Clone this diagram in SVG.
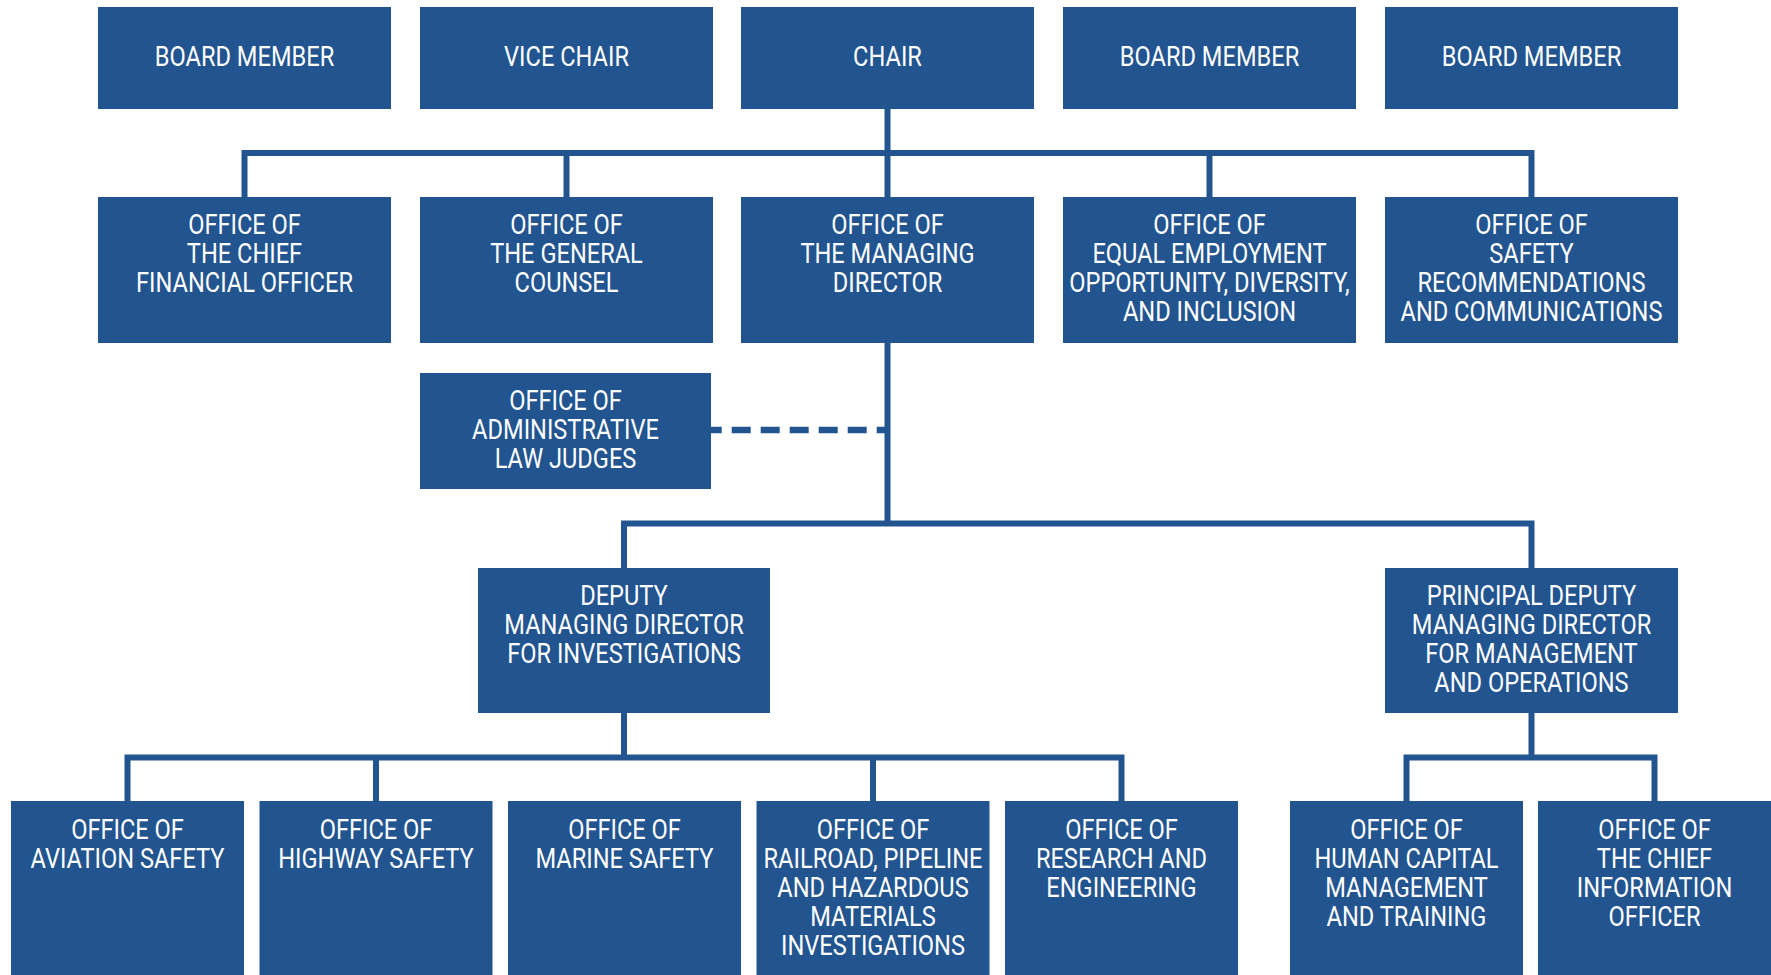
<svg xmlns="http://www.w3.org/2000/svg" width="1771" height="975" viewBox="0 0 1771 975">
<style>
.box{fill:#22548F}
.t{fill:#FFFFFF;font-family:Roboto,"Liberation Sans",sans-serif;font-size:27px;text-anchor:middle}
.ln{fill:none;stroke:#22548F;stroke-width:6;stroke-linejoin:miter;stroke-linecap:butt}
.dash{fill:none;stroke:#22548F;stroke-width:6.5;stroke-dasharray:19 10;stroke-dashoffset:8.3}
</style>
<rect width="1771" height="975" fill="#FFFFFF"/>
<g id="connectors">
<path class="ln" d="M887.5 109 V197"/>
<path class="ln" d="M244.5 197 V153 H1531.5 V197"/>
<path class="ln" d="M566.5 153 V197"/>
<path class="ln" d="M1209.5 153 V197"/>
<path class="ln" d="M887.5 343 V523.5"/>
<path class="ln" d="M624 568 V523.5 H1531.5 V568"/>
<path class="dash" d="M711 430 H885"/>
<path class="ln" d="M624 713 V757.5"/>
<path class="ln" d="M127.5 801 V757.5 H1121.5 V801"/>
<path class="ln" d="M376 757.5 V801"/>
<path class="ln" d="M873 757.5 V801"/>
<path class="ln" d="M1531.5 713 V757.5"/>
<path class="ln" d="M1406.5 801 V757.5 H1654.5 V801"/>
</g>
<g id="board1"><rect class="box" x="98" y="7" width="293" height="102"/><text class="t" transform="translate(244.5 0) scale(0.875 1)"><tspan x="0" y="66">BOARD MEMBER</tspan></text></g>
<g id="vicechair"><rect class="box" x="420" y="7" width="293" height="102"/><text class="t" transform="translate(566.5 0) scale(0.875 1)"><tspan x="0" y="66">VICE CHAIR</tspan></text></g>
<g id="chair"><rect class="box" x="741" y="7" width="293" height="102"/><text class="t" transform="translate(887.5 0) scale(0.875 1)"><tspan x="0" y="66">CHAIR</tspan></text></g>
<g id="board2"><rect class="box" x="1063" y="7" width="293" height="102"/><text class="t" transform="translate(1209.5 0) scale(0.875 1)"><tspan x="0" y="66">BOARD MEMBER</tspan></text></g>
<g id="board3"><rect class="box" x="1385" y="7" width="293" height="102"/><text class="t" transform="translate(1531.5 0) scale(0.875 1)"><tspan x="0" y="66">BOARD MEMBER</tspan></text></g>
<g id="cfo"><rect class="box" x="98" y="197" width="293" height="146"/><text class="t" transform="translate(244.5 0) scale(0.875 1)"><tspan x="0" y="234">OFFICE OF</tspan><tspan x="0" y="263">THE CHIEF</tspan><tspan x="0" y="292">FINANCIAL OFFICER</tspan></text></g>
<g id="gc"><rect class="box" x="420" y="197" width="293" height="146"/><text class="t" transform="translate(566.5 0) scale(0.875 1)"><tspan x="0" y="234">OFFICE OF</tspan><tspan x="0" y="263">THE GENERAL</tspan><tspan x="0" y="292">COUNSEL</tspan></text></g>
<g id="md"><rect class="box" x="741" y="197" width="293" height="146"/><text class="t" transform="translate(887.5 0) scale(0.875 1)"><tspan x="0" y="234">OFFICE OF</tspan><tspan x="0" y="263">THE MANAGING</tspan><tspan x="0" y="292">DIRECTOR</tspan></text></g>
<g id="eeo"><rect class="box" x="1063" y="197" width="293" height="146"/><text class="t" transform="translate(1209.5 0) scale(0.875 1)"><tspan x="0" y="234">OFFICE OF</tspan><tspan x="0" y="263">EQUAL EMPLOYMENT</tspan><tspan x="0" y="292">OPPORTUNITY, DIVERSITY,</tspan><tspan x="0" y="321">AND INCLUSION</tspan></text></g>
<g id="src"><rect class="box" x="1385" y="197" width="293" height="146"/><text class="t" transform="translate(1531.5 0) scale(0.875 1)"><tspan x="0" y="234">OFFICE OF</tspan><tspan x="0" y="263">SAFETY</tspan><tspan x="0" y="292">RECOMMENDATIONS</tspan><tspan x="0" y="321">AND COMMUNICATIONS</tspan></text></g>
<g id="alj"><rect class="box" x="420" y="373" width="291" height="116"/><text class="t" transform="translate(565.5 0) scale(0.875 1)"><tspan x="0" y="410">OFFICE OF</tspan><tspan x="0" y="439">ADMINISTRATIVE</tspan><tspan x="0" y="468">LAW JUDGES</tspan></text></g>
<g id="dmdi"><rect class="box" x="478" y="568" width="292" height="145"/><text class="t" transform="translate(624 0) scale(0.875 1)"><tspan x="0" y="605">DEPUTY</tspan><tspan x="0" y="634">MANAGING DIRECTOR</tspan><tspan x="0" y="663">FOR INVESTIGATIONS</tspan></text></g>
<g id="pdmd"><rect class="box" x="1385" y="568" width="293" height="145"/><text class="t" transform="translate(1531.5 0) scale(0.875 1)"><tspan x="0" y="605">PRINCIPAL DEPUTY</tspan><tspan x="0" y="634">MANAGING DIRECTOR</tspan><tspan x="0" y="663">FOR MANAGEMENT</tspan><tspan x="0" y="692">AND OPERATIONS</tspan></text></g>
<g id="aviation"><rect class="box" x="11" y="801" width="233" height="180"/><text class="t" transform="translate(127.5 0) scale(0.875 1)"><tspan x="0" y="839">OFFICE OF</tspan><tspan x="0" y="868">AVIATION SAFETY</tspan></text></g>
<g id="highway"><rect class="box" x="259.5" y="801" width="233" height="180"/><text class="t" transform="translate(376 0) scale(0.875 1)"><tspan x="0" y="839">OFFICE OF</tspan><tspan x="0" y="868">HIGHWAY SAFETY</tspan></text></g>
<g id="marine"><rect class="box" x="508" y="801" width="233" height="180"/><text class="t" transform="translate(624.5 0) scale(0.875 1)"><tspan x="0" y="839">OFFICE OF</tspan><tspan x="0" y="868">MARINE SAFETY</tspan></text></g>
<g id="railroad"><rect class="box" x="756.5" y="801" width="233" height="180"/><text class="t" transform="translate(873 0) scale(0.875 1)"><tspan x="0" y="839">OFFICE OF</tspan><tspan x="0" y="868">RAILROAD, PIPELINE</tspan><tspan x="0" y="897">AND HAZARDOUS</tspan><tspan x="0" y="926">MATERIALS</tspan><tspan x="0" y="955">INVESTIGATIONS</tspan></text></g>
<g id="research"><rect class="box" x="1005" y="801" width="233" height="180"/><text class="t" transform="translate(1121.5 0) scale(0.875 1)"><tspan x="0" y="839">OFFICE OF</tspan><tspan x="0" y="868">RESEARCH AND</tspan><tspan x="0" y="897">ENGINEERING</tspan></text></g>
<g id="hcm"><rect class="box" x="1290" y="801" width="233" height="180"/><text class="t" transform="translate(1406.5 0) scale(0.875 1)"><tspan x="0" y="839">OFFICE OF</tspan><tspan x="0" y="868">HUMAN CAPITAL</tspan><tspan x="0" y="897">MANAGEMENT</tspan><tspan x="0" y="926">AND TRAINING</tspan></text></g>
<g id="cio"><rect class="box" x="1538" y="801" width="234" height="180"/><text class="t" transform="translate(1654.5 0) scale(0.875 1)"><tspan x="0" y="839">OFFICE OF</tspan><tspan x="0" y="868">THE CHIEF</tspan><tspan x="0" y="897">INFORMATION</tspan><tspan x="0" y="926">OFFICER</tspan></text></g>
</svg>
